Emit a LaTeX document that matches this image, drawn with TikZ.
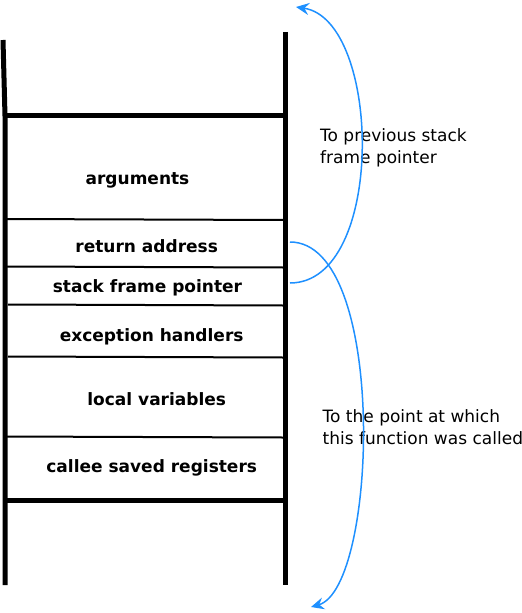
\documentclass[tikz,border=0pt]{standalone}
\usepackage{fontspec}
\setmainfont{DejaVu Sans}
\usetikzlibrary{arrows.meta}
\definecolor{ptrblue}{RGB}{30,144,255}
\tikzset{
  rail/.style={line width=5bp, line cap=butt},
  thickdiv/.style={line width=5bp},
  thindiv/.style={line width=2bp},
  field/.style={font=\fontsize{17bp}{21bp}\selectfont\bfseries, inner sep=0pt, anchor=base},
  note/.style={font=\fontsize{17bp}{21.7bp}\selectfont, inner sep=0pt, anchor=base west, align=left},
  ptr/.style={ptrblue, line width=1.5bp, -{Stealth[length=13bp,width=12bp,inset=4.5bp]}}
}
\begin{document}
\begin{tikzpicture}[x=1bp,y=-1bp]
\useasboundingbox (0,0) rectangle (522,613);
% rails
\coordinate (lt) at (3,40);
\coordinate (lm) at (5,116);
\coordinate (lb) at (5,585);
\coordinate (rt) at (285,32);
\coordinate (rb) at (285,585);
\draw[rail] (lt) -- (lm) -- (lb);
\draw[rail] (rt) -- (rb);
% dividers
\draw[thickdiv] (5,116) -- (285,116);
\draw[thindiv] (5,219) -- (283,220);
\draw[thindiv] (6,266.5) -- (283,267.5);
\draw[thindiv] (8,304.5) -- (283,305.5);
\draw[thindiv] (8,356.5) -- (283,357.5);
\draw[thindiv] (5,436.5) -- (283,437.5);
\draw[thickdiv] (5,500) -- (288,500);
% fields
\node[field] (args) at (137.5,184) {arguments};
\node[field] (ret) at (146.7,252.5) {return address};
\node[field] (sfp) at (147.5,292.5) {stack frame pointer};
\node[field] (exc) at (151.7,341) {exception handlers};
\node[field] (loc) at (156.7,405) {local variables};
\node[field] (cal) at (151.7,472.5) {callee saved registers};
% notes (base = baseline of last line)
\node[note] (prev) at (320,163.3) {To previous stack\\frame pointer};
\node[note] (call) at (322.5,444) {To the point at which\\this function was called};
% pointers
\coordinate (sfpout) at (290,283);
\coordinate (prevtip) at (296,7);
\coordinate (retout) at (290,242);
\coordinate (calltip) at (311,607);
\draw[ptr] (sfpout) .. controls (386,283) and (382,20) .. (prevtip);
\draw[ptr] (retout) .. controls (388,242) and (378,588) .. (calltip);
\end{tikzpicture}
\end{document}
